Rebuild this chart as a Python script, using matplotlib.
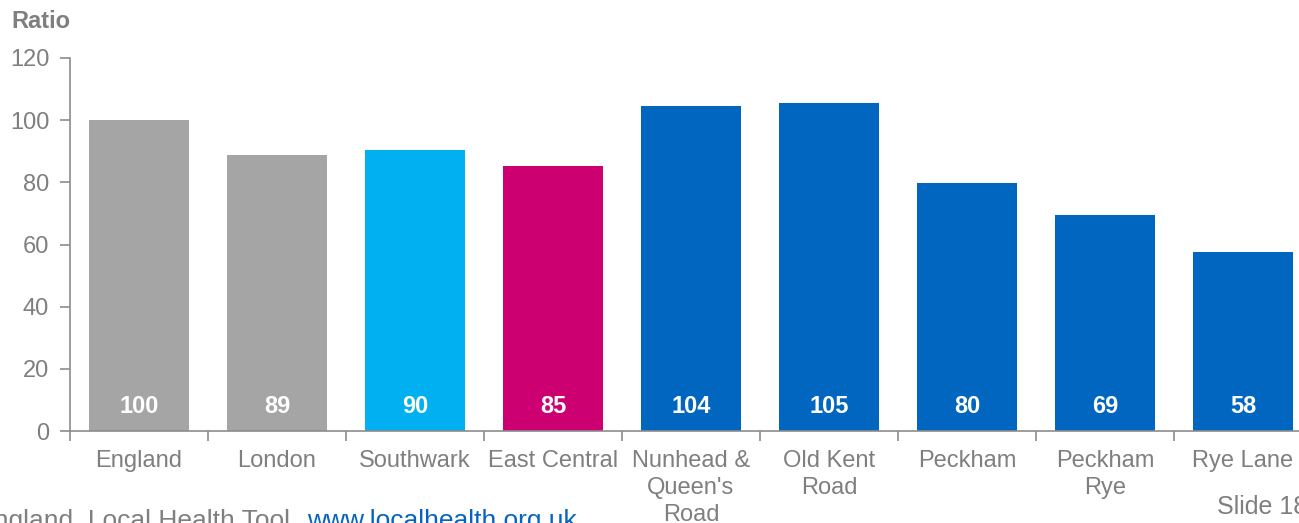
import numpy as np
import matplotlib
matplotlib.use("Agg")
import matplotlib.pyplot as plt

plt.rcParams["font.family"] = ["Liberation Sans", "DejaVu Sans"]

# data
areas = ["England", "London", "Southwark", "East Central", "Nunhead &\nQueen's\nRoad",
         "Old Kent\nRoad", "Peckham", "Peckham\nRye", "Rye Lane"]
ratio = [100.0, 88.9, 90.4, 85.2, 104.4, 105.4, 79.8, 69.4, 57.6]
labels = ["100", "89", "90", "85", "104", "105", "80", "69", "58"]
colors = ["#A5A5A5", "#A5A5A5", "#00B0F0", "#CC0070",
          "#0066BF", "#0066BF", "#0066BF", "#0066BF", "#0066BF"]

GREY = "#7F7F7F"
W, H = 1299, 523
fig = plt.figure(figsize=(W/100, H/100), dpi=100)
# axes runs off the right edge, like the cropped slide
ax = fig.add_axes([70/W, 92/H, 1242/W, 373/H])

x = np.arange(len(areas))
ax.bar(x, ratio, width=0.72, color=colors, zorder=2)
for xi, lab in zip(x, labels):
    ax.text(xi, 8, lab, ha="center", va="center", color="white",
            fontsize=17, fontweight="bold", zorder=3)

ax.set_xlim(-0.5, len(areas) - 0.5)
ax.set_ylim(0, 120)
ax.set_yticks(range(0, 121, 20))
ax.set_xticks(x)
ax.set_xticklabels(areas, fontsize=17, color=GREY, linespacing=1.28)
ax.set_xticks(np.arange(-0.5, len(areas)), minor=True)
ax.tick_params(axis="x", which="major", length=0, pad=14)
ax.tick_params(axis="x", which="minor", length=7, width=1.2, color="#8C8C8C")
ax.tick_params(axis="y", length=7, width=1.2, color="#8C8C8C", pad=8,
               labelsize=17, labelcolor=GREY)

for s in ["top", "right"]:
    ax.spines[s].set_visible(False)
for s in ["left", "bottom"]:
    ax.spines[s].set_color("#8C8C8C")
    ax.spines[s].set_linewidth(1.2)

fig.text(11/W, 1 - 22/H, "Ratio", fontsize=17, fontweight="bold", color=GREY,
         ha="left", va="center")

# footer (cut off by slide crop)
fig.text(305/W, -5/H, "Source: Public Health England, Local Health Tool, ",
         fontsize=19, color=GREY, ha="right", va="baseline")
fig.text(307/W, -5/H, "www.localhealth.org.uk", fontsize=19, color="#0563C1",
         ha="left", va="baseline")
fig.text(1217/W, 1 - 514/H, "Slide 18", fontsize=18, color=GREY,
         ha="left", va="baseline")

fig.savefig("out.png", dpi=100)
